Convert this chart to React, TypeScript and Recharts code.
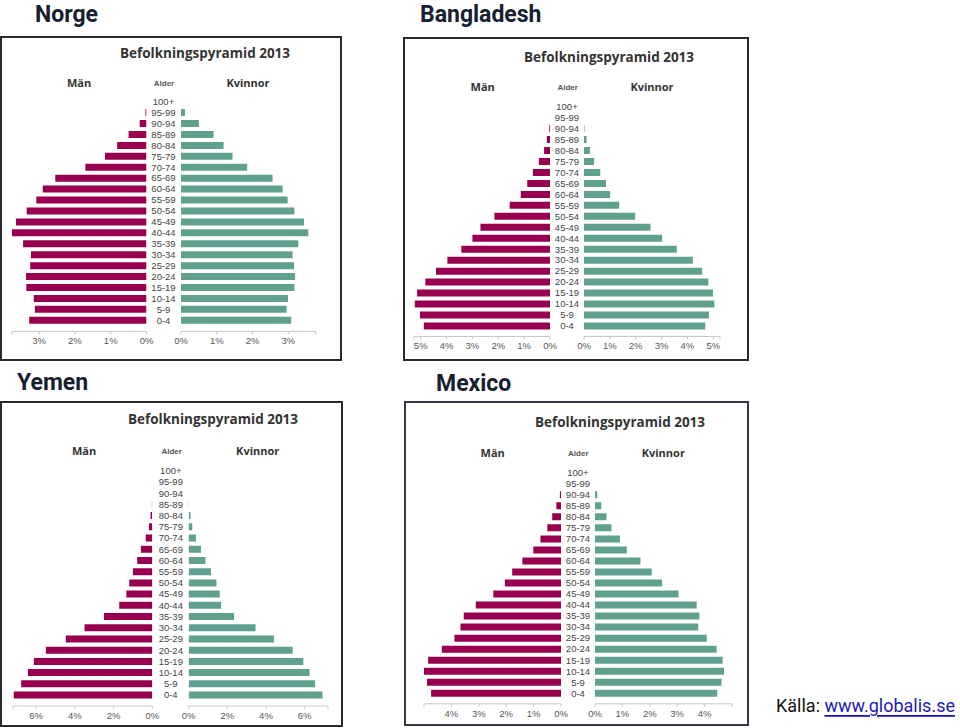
import React from 'react';
import { BarChart, Bar, XAxis, YAxis } from 'recharts';

const ageGroups = ['100+', '95-99', '90-94', '85-89', '80-84', '75-79', '70-74', '65-69', '60-64', '55-59', '50-54', '45-49', '40-44', '35-39', '30-34', '25-29', '20-24', '15-19', '10-14', '5-9', '0-4'];

const norgeMen = [0, 0.03, 0.19, 0.5, 0.82, 1.16, 1.71, 2.55, 2.9, 3.08, 3.35, 3.65, 3.76, 3.45, 3.23, 3.25, 3.37, 3.36, 3.15, 3.12, 3.28];
const norgeWomen = [0, 0.11, 0.5, 0.91, 1.19, 1.44, 1.85, 2.56, 2.84, 2.98, 3.17, 3.44, 3.56, 3.28, 3.12, 3.16, 3.19, 3.17, 2.99, 2.95, 3.08];
const bangladeshMen = [0, 0, 0.03, 0.12, 0.23, 0.43, 0.66, 0.88, 1.13, 1.56, 2.15, 2.69, 3.0, 3.43, 3.97, 4.41, 4.82, 5.14, 5.23, 5.03, 4.88];
const bangladeshWomen = [0, 0, 0.02, 0.1, 0.23, 0.39, 0.63, 0.85, 1.01, 1.36, 1.98, 2.57, 3.02, 3.59, 4.21, 4.57, 4.81, 4.99, 5.04, 4.83, 4.69];
const yemenMen = [0, 0, 0, 0.02, 0.09, 0.17, 0.34, 0.59, 0.78, 1.0, 1.19, 1.34, 1.71, 2.5, 3.5, 4.47, 5.5, 6.12, 6.43, 6.78, 7.16];
const yemenWomen = [0, 0, 0, 0.02, 0.1, 0.19, 0.38, 0.64, 0.87, 1.16, 1.44, 1.61, 1.68, 2.35, 3.46, 4.41, 5.38, 5.93, 6.25, 6.54, 6.92];
const mexicoMen = [0, 0, 0.04, 0.17, 0.32, 0.5, 0.75, 1.01, 1.41, 1.78, 2.05, 2.47, 3.11, 3.55, 3.67, 3.89, 4.35, 4.85, 5.0, 4.89, 4.74];
const mexicoWomen = [0, 0, 0.08, 0.23, 0.42, 0.6, 0.91, 1.16, 1.66, 2.07, 2.45, 3.05, 3.71, 3.81, 3.77, 4.08, 4.44, 4.66, 4.71, 4.62, 4.46];

const norgeTicks = [0, 1, 2, 3];
const bangladeshTicks = [0, 1, 2, 3, 4, 5];
const yemenTicks = [0, 2, 4, 6];
const mexicoTicks = [0, 1, 2, 3, 4];

const chartTitle = 'Befolkningspyramid 2013';
const menLabel = 'Män';
const womenLabel = 'Kvinnor';
const ageLabel = 'Alder';

const MEN = '#98004f';
const WOMEN = '#60a08e';
const AXIS = '#c8c8c8';
const FONT = 'Arial, "Liberation Sans", sans-serif';

type PanelGeom = {
  name: string;
  men: number[];
  women: number[];
  ticks: number[];
  max: number;
  zeroL: number;
  zeroR: number;
  span: number;
  firstC: number;
  lastC: number;
  axisY: number;
  box: [number, number, number, number];
  border: string;
  nameX: number;
  nameY: number;
  titleX: number;
  titleY: number;
  menX: number;
  ageX: number;
  womenX: number;
  labelY: number;
};

const panels: PanelGeom[] = [
  { name: 'Norge', men: norgeMen, women: norgeWomen, ticks: norgeTicks, max: 3.76, zeroL: 146, zeroR: 181, span: 134.5, firstC: 101.7, lastC: 320.3, axisY: 331.7, box: [0, 36, 342, 325], border: '#2a2a2e', nameX: 35, nameY: 14, titleX: 205, titleY: 52.7, menX: 79, ageX: 164, womenX: 248, labelY: 82 },
  { name: 'Bangladesh', men: bangladeshMen, women: bangladeshWomen, ticks: bangladeshTicks, max: 5.26, zeroL: 550.3, zeroR: 584.3, span: 136, firstC: 106.7, lastC: 326, axisY: 336.7, box: [403, 36.5, 346, 324.5], border: '#2a2a2e', nameX: 420, nameY: 14, titleX: 609, titleY: 56.7, menX: 482.7, ageX: 567.7, womenX: 652, labelY: 86.8 },
  { name: 'Yemen', men: yemenMen, women: yemenWomen, ticks: yemenTicks, max: 7.2, zeroL: 152.7, zeroR: 188.3, span: 139.3, firstC: 470.7, lastC: 695, axisY: 706, box: [0, 401, 342.5, 326], border: '#2a2a2e', nameX: 17, nameY: 382, titleX: 213, titleY: 419, menX: 84, ageX: 171.7, womenX: 257.7, labelY: 450.3 },
  { name: 'Mexico', men: mexicoMen, women: mexicoWomen, ticks: mexicoTicks, max: 5.0, zeroL: 561.3, zeroR: 595.3, span: 137, firstC: 472.7, lastC: 693.3, axisY: 704, box: [403.5, 401, 345.5, 325], border: '#343a44', nameX: 436, nameY: 383, titleX: 620, titleY: 421.7, menX: 492.7, ageX: 578.3, womenX: 663.3, labelY: 452.5 },
];

const M = 10;
const XH = 22;

function Pyramid({ p }: { p: PanelGeom }) {
  const step = (p.lastC - p.firstC) / (ageGroups.length - 1);
  const top = p.firstC - step / 2;
  const padB = p.axisY - (p.lastC + step / 2);
  const plotH = p.axisY - top;
  const h = plotH + XH;
  const gap = p.zeroR - p.zeroL;
  const menData = ageGroups.map((a, i) => ({ age: a, value: p.men[i] }));
  const womenData = ageGroups.map((a, i) => ({ age: a, value: p.women[i] }));
  const allTicks = [...p.ticks, p.max];
  const fmt = (v: number) => (p.ticks.includes(v) ? `${v}%` : '');
  const tickStyle = { fontSize: 9.5, fill: '#555', fontFamily: FONT };

  return (
    <>
      <div style={{ position: 'absolute', left: p.zeroL - p.span - M, top, width: p.span + 2 * M, height: h }}>
        <BarChart width={p.span + 2 * M} height={h} data={menData} layout="vertical" margin={{ top: 0, right: M, bottom: 0, left: M }} barCategoryGap="20%">
          <XAxis type="number" domain={[0, p.max]} reversed ticks={allTicks} tickFormatter={fmt} height={XH} tick={tickStyle} tickSize={3} tickMargin={3} stroke={AXIS} interval={0} allowDataOverflow />
          <YAxis type="category" dataKey="age" hide padding={{ top: 0, bottom: padB }} />
          <Bar dataKey="value" fill={MEN} isAnimationActive={false} />
        </BarChart>
      </div>
      <div style={{ position: 'absolute', left: p.zeroL, top, width: gap + p.span + M, height: h }}>
        <BarChart width={gap + p.span + M} height={h} data={womenData} layout="vertical" margin={{ top: 0, right: M, bottom: 0, left: 0 }} barCategoryGap="20%">
          <XAxis type="number" domain={[0, p.max]} ticks={allTicks} tickFormatter={fmt} height={XH} tick={tickStyle} tickSize={3} tickMargin={3} stroke={AXIS} interval={0} allowDataOverflow />
          <YAxis
            type="category"
            dataKey="age"
            width={gap}
            axisLine={false}
            tickLine={false}
            interval={0}
            padding={{ top: 0, bottom: padB }}
            tick={(tp: any) => (
              <text x={gap / 2} y={tp.y} textAnchor="middle" dominantBaseline="central" fontSize={9.5} fill="#444" fontFamily={FONT}>
                {tp.payload.value}
              </text>
            )}
          />
          <Bar dataKey="value" fill={WOMEN} isAnimationActive={false} />
        </BarChart>
      </div>
    </>
  );
}

export default function App() {
  return (
    <div style={{ position: 'absolute', left: 0, top: 0, width: 960, height: 728, background: '#fff', overflow: 'hidden' }}>
      {panels.map((p) => (
        <div key={p.name + 'box'} style={{ position: 'absolute', left: p.box[0], top: p.box[1], width: p.box[2], height: p.box[3], border: `2px solid ${p.border}`, boxSizing: 'border-box' }} />
      ))}
      {panels.map((p) => (
        <Pyramid key={p.name} p={p} />
      ))}
      <svg width={960} height={728} style={{ position: 'absolute', left: 0, top: 0, pointerEvents: 'none' }}>
        {panels.map((p) => (
          <g key={p.name + 'txt'}>
            <text x={p.nameX} y={p.nameY} dominantBaseline="central" fontFamily="Roboto, sans-serif" fontWeight="bold" fontSize={23} fill="#16202f">{p.name}</text>
            <text x={p.titleX} y={p.titleY} textAnchor="middle" dominantBaseline="central" fontFamily='"Open Sans", sans-serif' fontWeight="bold" fontSize={13.5} fill="#333">{chartTitle}</text>
            <text x={p.menX} y={p.labelY} textAnchor="middle" dominantBaseline="central" fontFamily='"Open Sans", sans-serif' fontWeight="bold" fontSize={11} fill="#333">{menLabel}</text>
            <text x={p.ageX} y={p.labelY + 1} textAnchor="middle" dominantBaseline="central" fontFamily={FONT} fontWeight="bold" fontSize={8} fill="#555">{ageLabel}</text>
            <text x={p.womenX} y={p.labelY} textAnchor="middle" dominantBaseline="central" fontFamily='"Open Sans", sans-serif' fontWeight="bold" fontSize={11} fill="#333">{womenLabel}</text>
          </g>
        ))}
        <text x={776} y={705} dominantBaseline="central" fontFamily="Roboto, sans-serif" fontSize={18} fill="#111">
          Källa: <tspan fill="#1a1ab8" style={{ textDecoration: 'underline' }}>www.globalis.se</tspan>
        </text>
      </svg>
    </div>
  );
}
